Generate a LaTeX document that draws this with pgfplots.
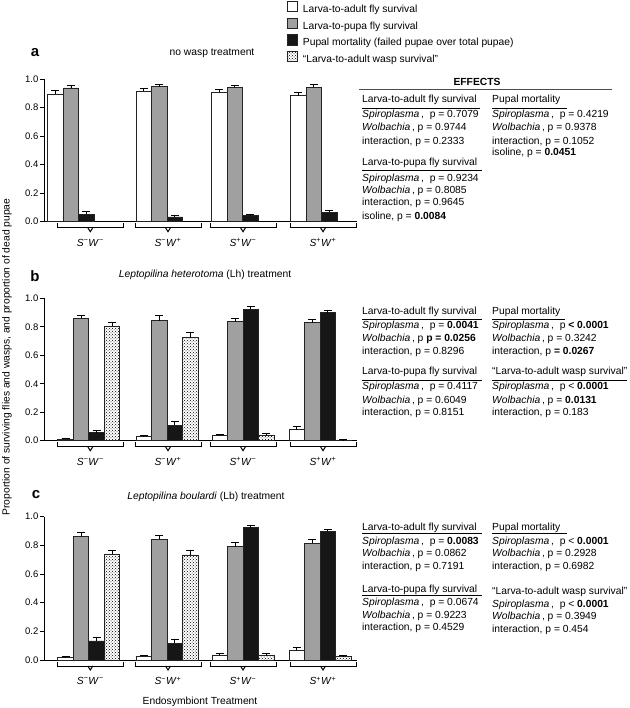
\documentclass[border=0pt]{standalone}
\usepackage{fontspec}
\setmainfont{Liberation Sans}
\usepackage{pgfplots}
\pgfplotsset{compat=1.18}
\usetikzlibrary{patterns}
\definecolor{barg}{RGB}{160,160,160}
\definecolor{edge}{RGB}{35,35,35}
\definecolor{barb}{RGB}{22,22,22}
\newcommand\fs{\fontsize{10.3}{12}\selectfont}
\newcommand\T[3]{\node[anchor=mid west, inner sep=0pt, font=\fs] at (#1pt,-#2pt) {#3};}
\newcommand\U[3]{\draw[line width=0.8pt] (#1pt,-#3pt) -- (#2pt,-#3pt);}
\newcommand\Sp{\textit{Spiroplasma}\,,\ \ p}
\newcommand\Wo{\textit{Wolbachia}\,, p}
\newcommand\mi{\textsuperscript{−}}
\newcommand\pl{\textsuperscript{+}}
\newcommand\bracket[3]{%
 \draw[line width=1pt] ([yshift=-1.5pt]axis cs:#1,0) -- ([yshift=-6pt]axis cs:#1,0) -- ([yshift=-6pt]axis cs:#2,0) -- ([yshift=-1.5pt]axis cs:#2,0);
 \draw[line width=1pt] ([xshift=-2.5pt,yshift=-6pt]axis cs:#3,0) -- ([yshift=-10pt]axis cs:#3,0) -- ([xshift=2.5pt,yshift=-6pt]axis cs:#3,0);}
\newcommand\glabels{%
 \node[font=\fs] at ([yshift=-21pt]axis cs:90.3,0) {\textit{S}\mi\textit{W}\mi};
 \node[font=\fs] at ([yshift=-21pt]axis cs:168,0) {\textit{S}\mi\textit{W}\pl};
 \node[font=\fs] at ([yshift=-21pt]axis cs:243,0) {\textit{S}\pl\textit{W}\mi};
 \node[font=\fs] at ([yshift=-21pt]axis cs:323,0) {\textit{S}\pl\textit{W}\pl};
 \bracket{57.3}{123.3}{90.3}\bracket{135}{201}{168}\bracket{210}{276}{243}\bracket{290}{356}{323}}
\pgfplotsset{
 panel/.style={
  scale only axis, width=313pt, xmin=44, xmax=357, ymin=0, ymax=1,
  axis x line*=bottom, axis y line*=left,
  axis line style={-, line width=0.8pt, black},
  xtick=\empty, ytick={0,0.2,0.4,0.6,0.8,1},
  tick align=outside, major tick length=4pt,
  tick style={black, line width=0.8pt},
  /pgf/number format/assume math mode=true,
  yticklabel style={/pgf/number format/.cd, fixed, fixed zerofill, precision=1, /tikz/.cd, font=\fontsize{9.5}{10}\selectfont, inner sep=1.5pt},
  clip=false, enlargelimits=false, anchor=south west,
 },
 bars/.style={ybar, bar shift=0pt, bar width=15.5, draw=edge, line width=0.7pt,
   error bars/y dir=plus, error bars/y explicit,
   error bars/error mark=-,
   error bars/error bar style={line width=0.7pt, black},
   error bars/error mark options={rotate=90, mark size=4pt, line width=0.7pt, black}},
}
\begin{document}
\begin{tikzpicture}
\path[use as bounding box] (0pt,0pt) rectangle (629pt,-708pt);

% ---------------- panel a
\begin{axis}[panel, height=142.7pt, at={(44pt,-221.7pt)},
  legend image code/.code={\draw[#1, draw=edge, line width=0.7pt] (0pt,-2pt) rectangle (10.5pt,8.5pt);},
  legend cell align=left,
  legend style={at={(0.7748,1.548)}, anchor=north west, draw=none, fill=none, inner sep=0pt,
    font=\fs, row sep=2.5pt, nodes={inner sep=0.5pt, text height=7.5pt, text depth=2pt},
    /tikz/every odd column/.style={column sep=4.5pt}}]
\addplot[bars, fill=white] coordinates {(55.45,0.895) +- (0,0.023) (143.75,0.916) +- (0,0.019) (219.25,0.909) +- (0,0.021) (298.25,0.883) +- (0,0.024)};
\addlegendentry{Larva-to-adult fly survival}
\addplot[bars, fill=barg] coordinates {(70.95,0.937) +- (0,0.021) (159.25,0.946) +- (0,0.017) (234.75,0.942) +- (0,0.016) (313.75,0.942) +- (0,0.018)};
\addlegendentry{Larva-to-pupa fly survival}
\addplot[bars, fill=barb] coordinates {(86.45,0.051) +- (0,0.024) (174.75,0.033) +- (0,0.013) (250.25,0.042) +- (0,0.012) (329.25,0.065) +- (0,0.017)};
\addlegendentry{Pupal mortality (failed pupae over total pupae)}
\addlegendimage{pattern=crosshatch dots, pattern color=black}
\addlegendentry{“Larva-to-adult wasp survival”}
\glabels
\end{axis}

% ---------------- panel b
\begin{axis}[panel, height=142.4pt, at={(44pt,-440.7pt)}]
\addplot[bars, fill=white] coordinates {(65.55,0.012) +- (0,0.004) (143.75,0.028) +- (0,0.009) (219.75,0.035) +- (0,0.012) (296.75,0.077) +- (0,0.022)};
\addplot[bars, fill=barg] coordinates {(81.05,0.859) +- (0,0.024) (159.25,0.843) +- (0,0.035) (235.25,0.836) +- (0,0.023) (312.25,0.830) +- (0,0.022)};
\addplot[bars, fill=barb] coordinates {(96.55,0.056) +- (0,0.019) (174.75,0.110) +- (0,0.028) (250.75,0.923) +- (0,0.021) (327.75,0.899) +- (0,0.019)};
\addplot[bars, pattern=crosshatch dots, pattern color=black] coordinates {(112.05,0.806) +- (0,0.023) (190.25,0.724) +- (0,0.035) (266.25,0.035) +- (0,0.017) (343.25,0.005) +- (0,0.003)};
\glabels
\end{axis}

% ---------------- panel c
\begin{axis}[panel, height=143.3pt, at={(44pt,-660pt)}]
\addplot[bars, fill=white] coordinates {(65.55,0.016) +- (0,0.007) (143.75,0.026) +- (0,0.009) (219.75,0.035) +- (0,0.009) (296.75,0.070) +- (0,0.016)};
\addplot[bars, fill=barg] coordinates {(81.05,0.860) +- (0,0.031) (159.25,0.842) +- (0,0.025) (235.25,0.791) +- (0,0.028) (312.25,0.814) +- (0,0.030)};
\addplot[bars, fill=barb] coordinates {(96.55,0.133) +- (0,0.025) (174.75,0.116) +- (0,0.028) (250.75,0.923) +- (0,0.017) (327.75,0.900) +- (0,0.012)};
\addplot[bars, pattern=crosshatch dots, pattern color=black] coordinates {(112.05,0.740) +- (0,0.027) (190.25,0.733) +- (0,0.034) (266.25,0.030) +- (0,0.017) (343.25,0.023) +- (0,0.010)};
\glabels
\end{axis}

% ---------------- panel letters and titles
\node[font=\fontsize{15}{16}\bfseries\selectfont] at (35pt,-53pt) {a};
\node[font=\fontsize{15}{16}\bfseries\selectfont] at (35pt,-276pt) {b};
\node[font=\fontsize{15}{16}\bfseries\selectfont] at (36pt,-495pt) {c};
\node[font=\fs] at (212pt,-53pt) {no wasp treatment};
\node[font=\fs] at (205pt,-275pt) {\textit{Leptopilina heterotoma} (Lh) treatment};
\node[font=\fs] at (206pt,-496.7pt) {\textit{Leptopilina boulardi} (Lb) treatment};
\node[font=\fs, rotate=90] at (7pt,-357pt) {Proportion of surviving flies and wasps, and proportion of dead pupae};
\node[font=\fs] at (200pt,-702pt) {Endosymbiont Treatment};

% ---------------- effects a
\node[font=\fs\bfseries] at (477pt,-82pt) {EFFECTS};
\draw[line width=1.2pt, black!70] (359pt,-89.3pt) -- (612pt,-89.3pt);
\T{362}{100}{Larva-to-adult fly survival}
\U{362}{480}{108}
\T{362}{115}{\Sp\ = 0.7079}
\T{362}{128}{\Wo\ = 0.9744}
\T{362}{141.7}{interaction, p = 0.2333}
\T{362}{162.7}{Larva-to-pupa fly survival}
\U{362}{482}{170}
\T{362}{179}{\Sp\ = 0.9234}
\T{362}{191}{\Wo\ = 0.8085}
\T{362}{203.3}{interaction, p = 0.9645}
\T{362}{216.7}{isoline, p = \textbf{0.0084}}
\T{492}{100}{Pupal mortality}
\U{492}{567}{108}
\T{492}{115}{\Sp\ = 0.4219}
\T{492}{128}{\Wo\ = 0.9378}
\T{492}{141.7}{interaction, p = 0.1052}
\T{492}{153.3}{isoline, p = \textbf{0.0451}}

% ---------------- effects b
\T{362}{311.7}{Larva-to-adult fly survival}
\U{362}{482}{319.3}
\T{362}{326}{\Sp\ = \textbf{0.0041}}
\T{362}{339.3}{\Wo\ \textbf{p = 0.0256}}
\T{362}{351.7}{interaction, p = 0.8296}
\T{362}{372.3}{Larva-to-pupa fly survival}
\U{362}{482}{380}
\T{362}{387.3}{\Sp\ = 0.4117}
\T{362}{400.7}{\Wo\ = 0.6049}
\T{362}{412.7}{interaction, p = 0.8151}
\T{492}{311.7}{Pupal mortality}
\U{492}{565}{319.3}
\T{492}{326}{\Sp\ \textbf{< 0.0001}}
\T{492}{339.3}{\Wo\ = 0.3242}
\T{492}{351.7}{interaction, p \textbf{= 0.0267}}
\T{492}{372.3}{“Larva-to-adult wasp survival”}
\U{492}{627}{380}
\T{492}{387.3}{\Sp\ < \textbf{0.0001}}
\T{492}{400.7}{\Wo\ = \textbf{0.0131}}
\T{492}{412.7}{interaction, p = 0.183}

% ---------------- effects c
\T{362}{527.7}{Larva-to-adult fly survival}
\U{362}{482}{533.5}
\T{362}{541.7}{\Sp\ = \textbf{0.0083}}
\T{362}{554.3}{\Wo\ = 0.0862}
\T{362}{566.7}{interaction, p = 0.7191}
\T{362}{590}{Larva-to-pupa fly survival}
\U{362}{482}{595.5}
\T{362}{603.3}{\Sp\ = 0.0674}
\T{362}{616}{\Wo\ = 0.9223}
\T{362}{628.3}{interaction, p = 0.4529}
\T{492}{527.7}{Pupal mortality}
\U{492}{567}{533.5}
\T{492}{541.7}{\Sp\ < \textbf{0.0001}}
\T{492}{554.3}{\Wo\ = 0.2928}
\T{492}{566.7}{interaction, p = 0.6982}
\T{492}{591.7}{“Larva-to-adult wasp survival”}
\T{492}{605}{\Sp\ < \textbf{0.0001}}
\T{492}{617.3}{\Wo\ = 0.3949}
\T{492}{630}{interaction, p = 0.454}
\end{tikzpicture}
\end{document}
